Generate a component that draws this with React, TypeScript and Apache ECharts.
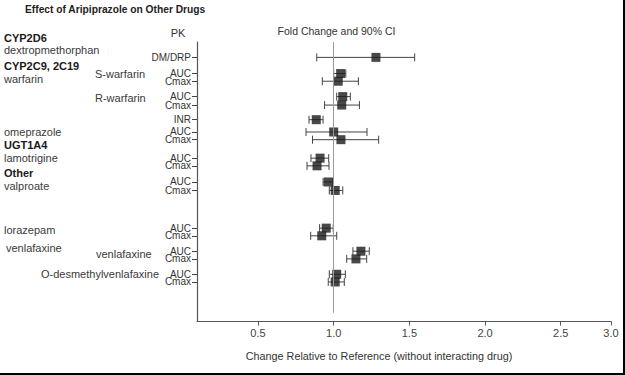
import React, { useEffect, useRef } from "react";
import * as echarts from "echarts";

// PK parameter shown next to each row (y-axis labels)
const pkLabels = ["DM/DRP", "AUC", "Cmax", "AUC", "Cmax", "INR", "AUC", "Cmax", "AUC", "Cmax", "AUC", "Cmax", "AUC", "Cmax", "AUC", "Cmax", "AUC", "Cmax"];
// row positions (in row units, top = 0)
const rowPos = [2.0, 4.1, 5.1, 7.1, 8.2, 10.1, 11.7, 12.7, 15.1, 16.1, 18.2, 19.3, 24.2, 25.2, 27.2, 28.2, 30.2, 31.2];
// fold change point estimates and 90% CI
const foldChange = [1.279, 1.046, 1.03, 1.06, 1.053, 0.885, 1.0, 1.048, 0.91, 0.89, 0.964, 1.01, 0.951, 0.921, 1.18, 1.147, 1.02, 1.01];
const ciLow = [0.888, 1.0, 0.925, 1.02, 0.94, 0.837, 0.817, 0.86, 0.85, 0.824, 0.93, 0.971, 0.907, 0.848, 1.127, 1.086, 0.971, 0.964];
const ciHigh = [1.535, 1.08, 1.163, 1.11, 1.17, 0.93, 1.22, 1.297, 0.967, 0.969, 0.993, 1.06, 0.997, 1.02, 1.235, 1.218, 1.077, 1.07];
// x axis ticks (the last tick is drawn at the axis end, labelled 3.0)
const xTickValues = [0.5, 1.0, 1.5, 2.0, 2.5, 2.832];
const xTickLabels = ["0.5", "1.0", "1.5", "2.0", "2.5", "3.0"];
const referenceValue = 1.0;
const yMax = 36.34;

// left-hand drug / enzyme labels
const drugTexts = ["CYP2D6", "dextropmethorphan", "CYP2C9, 2C19", "warfarin", "S-warfarin", "R-warfarin", "omeprazole", "UGT1A4", "lamotrigine", "Other", "valproate", "lorazepam", "venlafaxine", "venlafaxine", "O-desmethylvenlafaxine"];
const drugBold = [true, false, true, false, false, false, false, true, false, true, false, false, false, false, false];
const drugX = [4, 4, 4, 4, 95, 95, 4, 4, 4, 4, 4, 4, 6, 96, 41];
const drugY = [37.5, 50, 65.5, 79, 73.5, 97.5, 131.5, 144.5, 157.5, 172.5, 186, 230, 247.5, 253.5, 273.5];

const SANS = "'Liberation Sans', Arial, sans-serif";

function nearestIndex(arr: number[], v: number) {
  let best = 0;
  for (let i = 1; i < arr.length; i++) if (Math.abs(arr[i] - v) < Math.abs(arr[best] - v)) best = i;
  return best;
}

export default function App() {
  const ref = useRef<HTMLDivElement>(null);
  useEffect(() => {
    if (!ref.current) return;
    const chart = echarts.init(ref.current, null, { renderer: "svg" });
    const pointData = foldChange.map((v, i) => [v, rowPos[i]]);
    const ciData = ciLow.map((v, i) => [v, ciHigh[i], rowPos[i]]);
    const graphics: any[] = drugTexts.map((t, i) => ({
      type: "text",
      x: drugX[i],
      y: drugY[i],
      silent: true,
      style: {
        text: t,
        fill: drugBold[i] ? "#1a1a1a" : "#3a3a3a",
        font: `${drugBold[i] ? "bold " : ""}11px ${SANS}`,
        verticalAlign: "middle",
        align: "left",
      },
    }));
    graphics.push(
      {
        type: "text", x: 25, y: 9, scaleX: 0.89, silent: true,
        style: { text: "Effect of Aripiprazole on Other Drugs", fill: "#222", font: `bold 11.5px ${SANS}`, verticalAlign: "middle" },
      },
      {
        type: "text", x: 178, y: 33, silent: true,
        style: { text: "PK", fill: "#333", font: `11px ${SANS}`, verticalAlign: "middle", align: "center" },
      },
      {
        type: "text", x: 336.5, y: 31, silent: true,
        style: { text: "Fold Change and 90% CI", fill: "#333", font: `10.5px ${SANS}`, verticalAlign: "middle", align: "center" },
      },
      { type: "line", silent: true, shape: { x1: 624, y1: 0, x2: 624, y2: 375 }, style: { stroke: "#000", lineWidth: 2 } },
      { type: "line", silent: true, shape: { x1: 0, y1: 374, x2: 625, y2: 374 }, style: { stroke: "#000", lineWidth: 2 } }
    );

    chart.setOption({
      animation: false,
      backgroundColor: "#fff",
      grid: { left: 197, right: 14, top: 42, bottom: 53.5, containLabel: false },
      xAxis: {
        type: "value",
        min: 0.097,
        max: 2.832,
        splitLine: { show: false },
        axisLine: { show: true, onZero: false, lineStyle: { color: "#555", width: 1 } },
        axisTick: { show: true, length: 4, customValues: xTickValues, lineStyle: { color: "#555" } },
        axisLabel: {
          customValues: xTickValues,
          showMinLabel: true,
          showMaxLabel: true,
          color: "#444",
          fontSize: 11,
          fontFamily: SANS,
          margin: 6,
          formatter: (v: number) => xTickLabels[nearestIndex(xTickValues, v)],
        },
        name: "Change Relative to Reference (without interacting drug)",
        nameLocation: "middle",
        nameGap: 29,
        nameTextStyle: { color: "#333", fontSize: 10.8, fontFamily: SANS, padding: [0, 50, 0, 0] },
      },
      yAxis: {
        type: "value",
        min: 0,
        max: yMax,
        inverse: true,
        splitLine: { show: false },
        axisLine: { show: true, onZero: false, lineStyle: { color: "#555", width: 1.2 } },
        axisTick: { show: true, length: 5, customValues: rowPos, lineStyle: { color: "#444" } },
        axisLabel: {
          customValues: [0, ...rowPos, yMax],
          showMinLabel: true,
          showMaxLabel: true,
          hideOverlap: false,
          color: "#333",
          fontSize: 10,
          fontFamily: SANS,
          margin: 6,
          formatter: (v: number) => (v < 1 || v > 32 ? "" : pkLabels[nearestIndex(rowPos, v)]),
        },
      },
      series: [
        {
          type: "custom",
          data: ciData,
          silent: true,
          renderItem: (params: any, api: any) => {
            const lo = api.coord([api.value(0), api.value(2)]);
            const hi = api.coord([api.value(1), api.value(2)]);
            const h = 4;
            const style = { stroke: "#444", lineWidth: 1 };
            return {
              type: "group",
              children: [
                { type: "line", shape: { x1: lo[0], y1: lo[1], x2: hi[0], y2: hi[1] }, style },
                { type: "line", shape: { x1: lo[0], y1: lo[1] - h, x2: lo[0], y2: lo[1] + h }, style },
                { type: "line", shape: { x1: hi[0], y1: hi[1] - h, x2: hi[0], y2: hi[1] + h }, style },
              ],
            };
          },
          z: 2,
        },
        {
          type: "scatter",
          data: pointData,
          symbol: "rect",
          symbolSize: 9,
          itemStyle: { color: "#1a1a1a" },
          silent: true,
          z: 3,
          markLine: {
            silent: true,
            symbol: "none",
            label: { show: false },
            lineStyle: { color: "#999", width: 1, type: "solid" },
            data: [[{ coord: [referenceValue, 0] }, { coord: [referenceValue, 35.2] }]],
          },
        },
      ],
      graphic: graphics,
    });
    return () => chart.dispose();
  }, []);
  return <div ref={ref} style={{ position: "fixed", left: 0, top: 0, width: 625, height: 375 }} />;
}
